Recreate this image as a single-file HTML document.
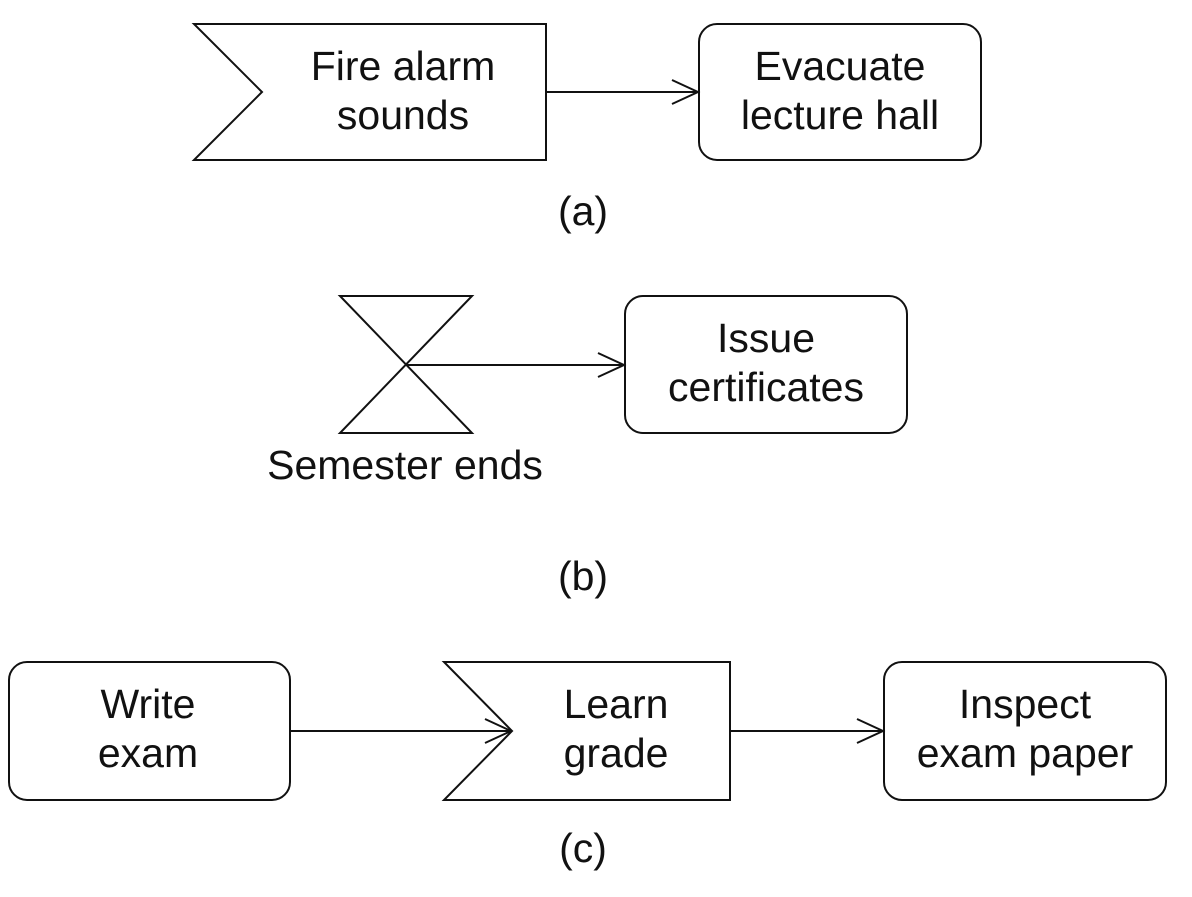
<!DOCTYPE html>
<html><head><style>html,body{margin:0;padding:0;background:#fff;}</style></head>
<body>
<svg width="1192" height="892" viewBox="0 0 1192 892" xmlns="http://www.w3.org/2000/svg" font-family="Liberation Sans, sans-serif" font-size="41" fill="none" stroke="#111" stroke-width="2">
<!-- (a) -->
<polygon points="194,24 546,24 546,160 194,160 262,92"/>
<rect x="699" y="24" width="282" height="136" rx="18"/>
<line x1="546" y1="92" x2="698" y2="92"/>
<polyline points="672,80 698,92 672,104"/>
<g fill="#111" stroke="none" text-anchor="middle">
<text x="403" y="80">Fire alarm</text>
<text x="403" y="129">sounds</text>
<text x="840" y="80">Evacuate</text>
<text x="840" y="129">lecture hall</text>
<text x="583" y="225">(a)</text>
</g>
<!-- (b) -->
<polygon points="340,296 472,296 340,433 472,433"/>
<line x1="406" y1="365" x2="624" y2="365"/>
<polyline points="598,353 624,365 598,377"/>
<rect x="625" y="296" width="282" height="137" rx="18"/>
<g fill="#111" stroke="none" text-anchor="middle">
<text x="766" y="352">Issue</text>
<text x="766" y="401">certificates</text>
<text x="405" y="479">Semester ends</text>
<text x="583" y="590">(b)</text>
</g>
<!-- (c) -->
<rect x="9" y="662" width="281" height="138" rx="18"/>
<polygon points="444,662 730,662 730,800 444,800 512,731"/>
<rect x="884" y="662" width="282" height="138" rx="18"/>
<line x1="290" y1="731" x2="511" y2="731"/>
<polyline points="485,719 511,731 485,743"/>
<line x1="730" y1="731" x2="883" y2="731"/>
<polyline points="857,719 883,731 857,743"/>
<g fill="#111" stroke="none" text-anchor="middle">
<text x="148" y="718">Write</text>
<text x="148" y="767">exam</text>
<text x="616" y="718">Learn</text>
<text x="616" y="767">grade</text>
<text x="1025" y="718">Inspect</text>
<text x="1025" y="767">exam paper</text>
<text x="583" y="862">(c)</text>
</g>
</svg>
</body></html>
